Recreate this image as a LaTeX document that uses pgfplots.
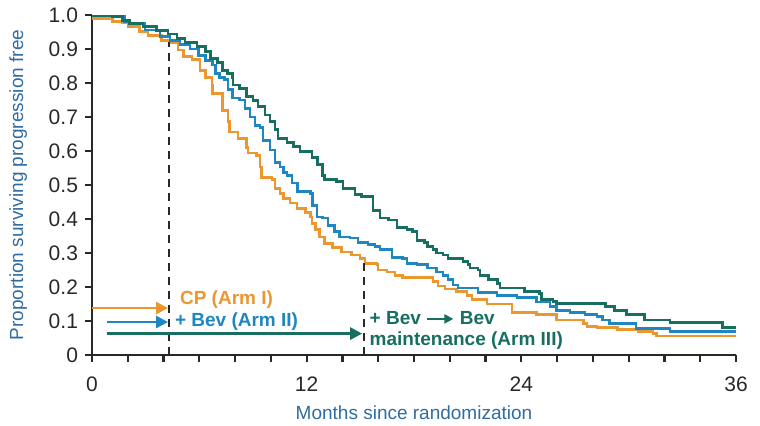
\documentclass[border=0pt]{standalone}
\usepackage{pgfplots}
\pgfplotsset{compat=1.18}
\usepackage{fontspec}
\setmainfont{Liberation Sans}
\usetikzlibrary{arrows.meta}
\definecolor{armone}{RGB}{236,150,48}
\definecolor{armtwo}{RGB}{30,134,192}
\definecolor{armthree}{RGB}{24,110,96}
\definecolor{labblue}{RGB}{48,108,160}
\definecolor{axgray}{RGB}{40,40,40}
\begin{document}
\begin{tikzpicture}
\begin{axis}[
    name=km,
    at={(0,0)}, anchor=south west,
    scale only axis,
    width=322pt, height=170pt,
    xmin=0, xmax=36,
    ymin=0, ymax=1,
    axis x line*=bottom,
    axis y line*=left,
    axis line style={line width=1.4pt, axgray},
    xtick={0,12,24,36},
    xticklabels={0,12,24,36},
    minor xtick={2,4,...,34},
    ytick={0,0.1,0.2,0.3,0.4,0.5,0.6,0.7,0.8,0.9,1},
    yticklabels={0,0.1,0.2,0.3,0.4,0.5,0.6,0.7,0.8,0.9,1.0},
    tick align=outside,
    major tick length=3.5pt,
    minor tick length=3.5pt,
    every tick/.style={axgray, line width=1.1pt},
    tick label style={font=\fontsize{10.5}{12}\selectfont, text=axgray},
    xticklabel style={yshift=-4pt},
    xlabel={Months since randomization},
    ylabel={Proportion surviving progression free},
    ylabel style={xshift=0pt, yshift=4pt},
    label style={font=\fontsize{9.5}{11}\selectfont, text=labblue},
    clip=false,
]
% Arm I: CP
\addplot[const plot, armone, line width=1.45pt] coordinates {
(0,0.99)(1.17,0.982)(1.73,0.977)(2.01,0.965)(2.68,0.951)(3.13,0.941)(3.91,0.925)
(4.36,0.92)(4.81,0.897)(5.09,0.877)(5.59,0.868)(6.04,0.838)(6.32,0.815)(6.71,0.794)
(6.76,0.77)(7.27,0.75)(7.32,0.72)(7.60,0.686)(7.71,0.656)(8.16,0.638)(8.66,0.609)
(8.72,0.594)(9.22,0.588)(9.39,0.553)(9.50,0.521)(10.06,0.515)(10.23,0.49)(10.51,0.476)
(10.68,0.46)(11.07,0.447)(11.46,0.432)(11.91,0.42)(12.19,0.406)(12.30,0.388)(12.47,0.368)
(12.74,0.347)(13.02,0.329)(13.42,0.315)(13.97,0.303)(14.53,0.294)(14.98,0.285)(15.26,0.27)
(15.93,0.265)(15.99,0.25)(16.49,0.244)(16.94,0.235)(17.38,0.229)(19.06,0.215)(19.34,0.203)
(19.73,0.194)(20.40,0.186)(20.96,0.176)(21.24,0.162)(22.08,0.15)(23.48,0.124)(24.87,0.118)
(25.99,0.103)(27.45,0.094)(27.67,0.085)(28.23,0.08)(29.40,0.074)(30.52,0.068)(31.36,0.062)
(31.58,0.056)(36,0.056)
};
% Arm II: CP + Bev
\addplot[const plot, armtwo, line width=1.45pt] coordinates {
(0,0.997)(1.17,0.995)(1.84,0.98)(2.12,0.974)(2.96,0.956)(3.80,0.936)(4.36,0.926)
(4.92,0.912)(5.48,0.90)(5.93,0.882)(6.32,0.865)(6.76,0.853)(6.88,0.829)(7.15,0.815)
(7.43,0.809)(7.60,0.78)(7.83,0.756)(8.27,0.75)(8.55,0.726)(8.83,0.70)(9.11,0.676)
(9.39,0.668)(9.56,0.632)(9.95,0.603)(10.23,0.565)(10.51,0.553)(10.68,0.538)(10.90,0.529)
(11.18,0.506)(11.51,0.48)(12.19,0.476)(12.35,0.441)(12.58,0.406)(12.86,0.403)(13.19,0.382)
(13.58,0.362)(13.86,0.347)(14.42,0.344)(14.87,0.332)(15.43,0.324)(15.82,0.318)(16.10,0.309)
(16.77,0.288)(17.38,0.285)(17.61,0.27)(18.17,0.265)(18.73,0.256)(19.28,0.244)(19.62,0.235)
(19.90,0.221)(20.18,0.206)(20.46,0.197)(21.58,0.185)(22.64,0.176)(23.76,0.168)(24.87,0.156)
(25.60,0.144)(25.99,0.132)(26.72,0.124)(27.56,0.118)(28.23,0.112)(28.56,0.103)(28.95,0.094)
(30.41,0.077)(32.31,0.068)(36,0.068)
};
% Arm III: CP + Bev -> Bev maintenance
\addplot[const plot, armthree, line width=1.45pt] coordinates {
(0,0.997)(1.17,0.995)(1.73,0.985)(2.12,0.975)(2.85,0.966)(3.63,0.954)(4.25,0.944)
(4.75,0.932)(5.20,0.918)(5.87,0.907)(6.32,0.892)(6.60,0.873)(7.04,0.859)(7.27,0.838)
(7.55,0.827)(7.83,0.815)(7.88,0.794)(8.27,0.783)(8.66,0.76)(9.0,0.748)(9.28,0.73)
(9.67,0.706)(9.95,0.686)(10.23,0.662)(10.40,0.638)(10.90,0.624)(11.24,0.612)(11.63,0.598)
(12.30,0.582)(12.63,0.559)(12.86,0.529)(13.02,0.515)(13.69,0.509)(14.03,0.491)(14.70,0.471)
(15.09,0.465)(15.71,0.426)(16.10,0.403)(16.55,0.397)(17.05,0.376)(17.61,0.368)(17.94,0.362)
(18.17,0.338)(18.61,0.332)(18.73,0.318)(19.06,0.309)(19.28,0.30)(19.62,0.294)(19.90,0.285)
(20.74,0.274)(21.02,0.265)(21.13,0.256)(21.58,0.25)(21.69,0.235)(22.14,0.221)(22.69,0.210)
(22.81,0.197)(24.20,0.187)(25.04,0.182)(25.15,0.162)(25.77,0.158)(25.99,0.151)(28.68,0.143)
(29.23,0.130)(29.90,0.12)(30.86,0.103)(32.31,0.095)(35.22,0.08)(36,0.08)
};
% treatment phases
\draw[axgray, line width=1.4pt, dash pattern=on 4pt off 3pt] (axis cs:4.3,0) -- (axis cs:4.3,0.92);
\draw[axgray, line width=1.4pt, dash pattern=on 4pt off 3pt] (axis cs:15.2,0) -- (axis cs:15.2,0.272);
\draw[armone, line width=1.4pt, -{Triangle[length=6pt,width=6pt]}] (axis cs:0,0.138) -- (axis cs:4.25,0.138);
\draw[armtwo, line width=1.4pt, -{Triangle[length=6pt,width=6pt]}] (axis cs:0.84,0.097) -- (axis cs:4.25,0.097);
\draw[armthree, line width=1.4pt, -{Triangle[length=6pt,width=6pt]}] (axis cs:0.84,0.063) -- (axis cs:15.1,0.063);
\node[anchor=west, inner sep=0pt, text=armone, font=\fontsize{9.5}{11}\selectfont\bfseries] at (axis cs:4.9,0.162) {CP (Arm I)};
\node[anchor=west, inner sep=0pt, text=armtwo, font=\fontsize{9.5}{11}\selectfont\bfseries] at (axis cs:4.62,0.097) {+ Bev (Arm II)};
\node[anchor=west, inner sep=0pt, align=left, text=armthree, font=\fontsize{9.5}{10.5}\selectfont\bfseries] at (axis cs:15.5,0.071)
  {+ Bev \tikz[baseline=-0.6ex]\draw[armthree, line width=1.2pt, -{Triangle[length=4.5pt,width=4.5pt]}] (0,0) -- (13pt,0); Bev\\maintenance (Arm III)};
\end{axis}
\pgfresetboundingbox
\path[use as bounding box] (-46pt,-35pt) rectangle (334pt,177.5pt);
\end{tikzpicture}
\end{document}
